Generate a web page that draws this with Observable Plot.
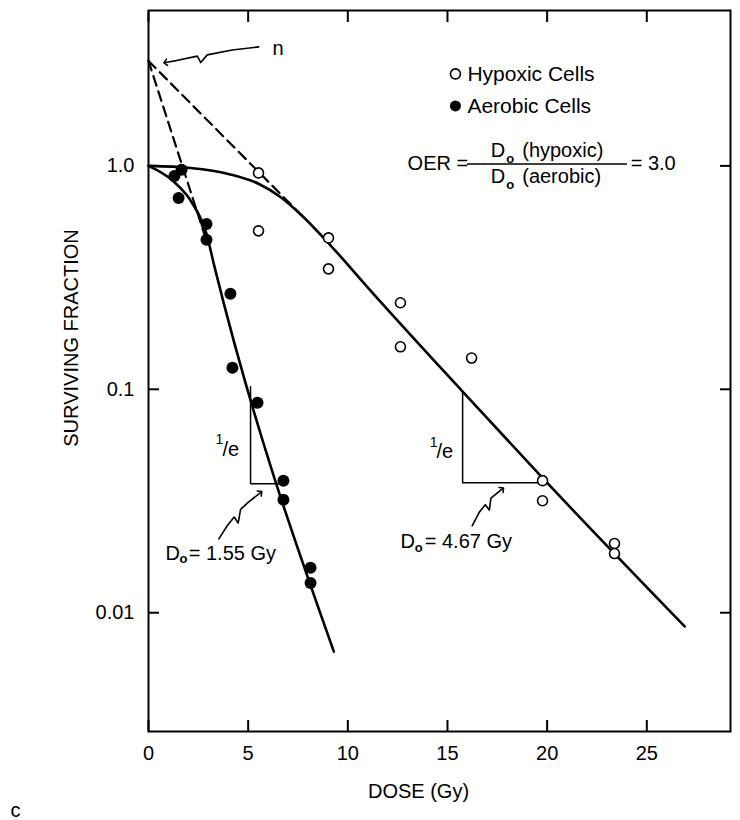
<!DOCTYPE html>
<html><head><meta charset="utf-8">
<script src="https://cdn.jsdelivr.net/npm/d3@7"></script>
<script src="https://cdn.jsdelivr.net/npm/@observablehq/plot@0.6"></script>
<style>
body{margin:0;background:#fff;}
#chart svg{display:block;font-family:"Liberation Sans",Arial,Helvetica,sans-serif;}
</style></head><body><div id="chart"></div>
<script>
// ---- axes ----
const xTicks = [0, 5, 10, 15, 20, 25];
const yTicks = [1, 0.1, 0.01];
const yTickLabels = ["1.0", "0.1", "0.01"];
const xLabel = "DOSE (Gy)";
const yLabel = "SURVIVING FRACTION";
const panelLetter = "c";

// ---- measured points ----
const hypoxicDose = [5.52, 5.52, 9.03, 9.03, 12.64, 12.64, 16.21, 19.77, 19.77, 23.38, 23.38];
const hypoxicSF   = [0.93, 0.512, 0.476, 0.346, 0.244, 0.155, 0.138, 0.039, 0.0317, 0.0204, 0.0184];
const aerobicDose = [1.30, 1.66, 1.51, 2.91, 2.91, 4.11, 4.21, 5.47, 6.77, 6.77, 8.13, 8.13];
const aerobicSF   = [0.902, 0.96, 0.719, 0.550, 0.467, 0.2675, 0.1248, 0.087, 0.039, 0.032, 0.0159, 0.0136];

// ---- fitted survival curves ----
const hypoxicCurveDose = [0, 2.11, 4.11, 5.52, 6.62, 7.73, 9.13, 11.15, 15.76, 19.77, 26.9];
const hypoxicCurveSF   = [1.0, 0.979, 0.916, 0.832, 0.726, 0.595, 0.441, 0.276, 0.0977, 0.0401, 0.00868];
const aerobicCurveDose = [0, 1.2, 2.2, 2.9, 3.3, 9.3];
const aerobicCurveSF   = [1.0, 0.86, 0.68, 0.50, 0.357, 0.0067];

// ---- extrapolations to n ----
const hypoxicExtrapDose = [0, 7.73];
const hypoxicExtrapSF   = [2.95, 0.595];
const aerobicExtrapDose = [0, 2.8];
const aerobicExtrapSF   = [2.95, 0.495];

// ---- 1/e triangles ----
const aerobicTriDose = [6.77, 5.12, 5.12];
const aerobicTriSF   = [0.0378, 0.0378, 0.1026];
const hypoxicTriDose = [19.67, 15.76, 15.76];
const hypoxicTriSF   = [0.0382, 0.0382, 0.0977];

// ---- squiggly pointer arrows ----
const nArrowDose = [5.53, 4.2, 2.95, 2.62, 2.45, 1.40, 0.85];
const nArrowSF   = [3.41, 3.30, 3.14, 2.90, 3.10, 2.96, 2.90];
const aerArrowDose = [3.53, 3.95, 4.30, 4.50, 4.62, 5.0, 5.62];
const aerArrowSF   = [0.0214, 0.0245, 0.0268, 0.0252, 0.0290, 0.0312, 0.0345];
const hypArrowDose = [16.24, 16.60, 16.90, 17.10, 17.18, 17.40, 17.75];
const hypArrowSF   = [0.0245, 0.0282, 0.0304, 0.0288, 0.0326, 0.0338, 0.0358];

// ---- annotation texts (position in dose / fraction units) ----
const legendLabels = ["Hypoxic Cells", "Aerobic Cells"];
const legendSymbolDose = 15.4;
const legendTextDose = 16.0;
const legendSF = [2.58, 1.855];

const bigTexts = [
  {t: "n", x: 6.22, y: 3.36},
  {t: "OER =", x: 13.0, y: 1.02},
  {t: "D", x: 17.17, y: 1.167},
  {t: "(hypoxic)", x: 18.75, y: 1.167},
  {t: "D", x: 17.17, y: 0.893},
  {t: "(aerobic)", x: 18.75, y: 0.893},
  {t: "= 3.0", x: 24.19, y: 1.02},
  {t: "/e", x: 3.71, y: 0.0536},
  {t: "/e", x: 14.45, y: 0.0525},
  {t: "D", x: 0.85, y: 0.01837},
  {t: "= 1.55 Gy", x: 2.02, y: 0.01837},
  {t: "D", x: 12.64, y: 0.0208},
  {t: "= 4.67 Gy", x: 13.86, y: 0.0208}
];
const subTexts = [
  {t: "o", x: 17.95, y: 1.08},
  {t: "o", x: 17.95, y: 0.826},
  {t: "o", x: 1.56, y: 0.01749},
  {t: "o", x: 13.36, y: 0.01954}
];
const supTexts = [
  {t: "1", x: 3.56, y: 0.0594},
  {t: "1", x: 14.30, y: 0.0576}
];
const fractionBar = {x1: 16.0, x2: 24.03, y: 1.0208};

const zip = (xs, ys) => xs.map((x, i) => ({x, y: ys[i]}));

const chart = Plot.plot({
  width: 740,
  height: 820,
  marginTop: 10,
  marginBottom: 89,
  marginLeft: 148,
  marginRight: 10,
  style: {fontFamily: '"Liberation Sans",Arial,Helvetica,sans-serif', background: "#fff"},
  x: {domain: [0, 29.2]},
  y: {type: "log", domain: [0.00294, 4.96]},
  marks: [
    Plot.frame({stroke: "#000", strokeWidth: 2}),
    Plot.axisY({anchor: "left", ticks: yTicks, tickSize: -11, tickPadding: 25, strokeWidth: 2,
      tickFormat: (d) => yTickLabels[yTicks.indexOf(d)], fontSize: 20, label: null}),
    Plot.axisY({anchor: "right", ticks: yTicks, tickSize: -11, strokeWidth: 2, tickFormat: () => "", label: null}),
    Plot.axisX({anchor: "bottom", ticks: xTicks, tickSize: -11, tickPadding: 25, strokeWidth: 2,
      tickFormat: (d) => String(d), fontSize: 20, label: null}),
    Plot.axisX({anchor: "top", ticks: xTicks, tickSize: -11, strokeWidth: 2, tickFormat: () => "", label: null}),
    Plot.text([yLabel], {frameAnchor: "left", textAnchor: "middle", lineAnchor: "middle", rotate: -90, dx: -77, dy: -33, fontSize: 20}),
    Plot.text([xLabel], {frameAnchor: "bottom", textAnchor: "middle", lineAnchor: "middle", dx: -21, dy: 60, fontSize: 20}),
    Plot.text([panelLetter], {frameAnchor: "bottom-left", textAnchor: "start", lineAnchor: "middle", dx: -138, dy: 79, fontSize: 20}),

    Plot.line(zip(hypoxicExtrapDose, hypoxicExtrapSF), {x: "x", y: "y", strokeWidth: 2.2, strokeDasharray: "10,6"}),
    Plot.line(zip(aerobicExtrapDose, aerobicExtrapSF), {x: "x", y: "y", strokeWidth: 2.2, strokeDasharray: "10,6"}),
    Plot.line(zip(hypoxicCurveDose, hypoxicCurveSF), {x: "x", y: "y", strokeWidth: 2.6, curve: "monotone-x"}),
    Plot.line(zip(aerobicCurveDose, aerobicCurveSF), {x: "x", y: "y", strokeWidth: 2.6, curve: "monotone-x"}),
    Plot.line(zip(aerobicTriDose, aerobicTriSF), {x: "x", y: "y", strokeWidth: 1.5}),
    Plot.line(zip(hypoxicTriDose, hypoxicTriSF), {x: "x", y: "y", strokeWidth: 1.5}),

    Plot.line(zip(nArrowDose, nArrowSF), {x: "x", y: "y", strokeWidth: 1.6, markerEnd: "arrow"}),
    Plot.line(zip(aerArrowDose, aerArrowSF), {x: "x", y: "y", strokeWidth: 1.6, markerEnd: "arrow"}),
    Plot.line(zip(hypArrowDose, hypArrowSF), {x: "x", y: "y", strokeWidth: 1.6, markerEnd: "arrow"}),

    Plot.dot(zip(aerobicDose, aerobicSF), {x: "x", y: "y", r: 6, fill: "#000", stroke: "none"}),
    Plot.dot(zip(hypoxicDose, hypoxicSF), {x: "x", y: "y", r: 5, fill: "#fff", stroke: "#000", strokeWidth: 1.6}),

    Plot.dot([legendSF[0]], {x: () => legendSymbolDose, y: (d) => d, r: 5, fill: "#fff", stroke: "#000", strokeWidth: 1.6}),
    Plot.dot([legendSF[1]], {x: () => legendSymbolDose, y: (d) => d, r: 5.5, fill: "#000"}),
    Plot.text(legendLabels, {x: () => legendTextDose, y: (d, i) => legendSF[i], textAnchor: "start", fontSize: 21}),

    Plot.ruleY([fractionBar], {x1: "x1", x2: "x2", y: "y", strokeWidth: 1.5}),
    Plot.text(bigTexts, {x: "x", y: "y", text: "t", textAnchor: "start", fontSize: 20}),
    Plot.text(subTexts, {x: "x", y: "y", text: "t", textAnchor: "start", fontSize: 13, fontWeight: "bold"}),
    Plot.text(supTexts, {x: "x", y: "y", text: "t", textAnchor: "middle", fontSize: 14})
  ]
});
document.getElementById("chart").appendChild(chart);
</script>
</body></html>
